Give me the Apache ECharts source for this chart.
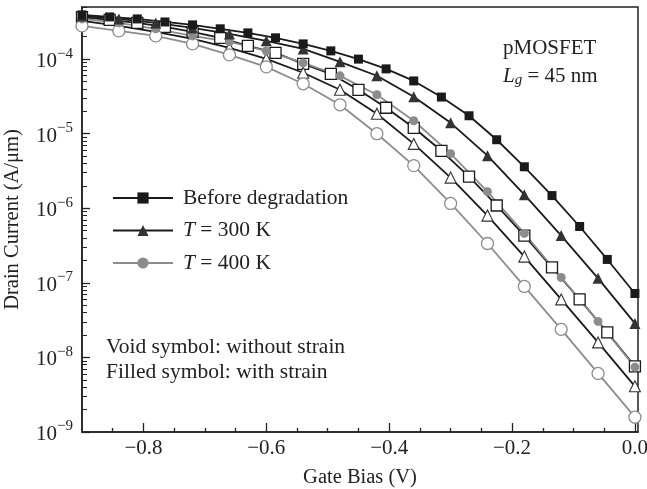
<!DOCTYPE html>
<html><head><meta charset="utf-8">
<script src="https://cdn.jsdelivr.net/npm/echarts@6/dist/echarts.min.js"></script>
<style>html,body{margin:0;padding:0;background:#fff}#c{width:647px;height:489px}</style>
</head><body><div id="c"></div><script>
// Gate bias grids (V)
const gateFine = [-0.900,-0.855,-0.810,-0.765,-0.720,-0.675,-0.630,-0.585,-0.540,-0.495,-0.450,-0.405,-0.360,-0.315,-0.270,-0.225,-0.180,-0.135,-0.090,-0.045,0.000];
const gateCoarse = [-0.90,-0.84,-0.78,-0.72,-0.66,-0.60,-0.54,-0.48,-0.42,-0.36,-0.30,-0.24,-0.18,-0.12,-0.06,0.00];

// Drain current (A/um)
const beforeStrain = [3.92e-4,3.68e-4,3.46e-4,3.15e-4,2.88e-4,2.55e-4,2.25e-4,1.93e-4,1.60e-4,1.29e-4,1.0e-4,7.4e-5,5.1e-5,3.1e-5,1.74e-5,8.3e-6,3.6e-6,1.48e-6,5.7e-7,2.06e-7,7.2e-8];
const beforeNoStrain = [3.65e-4,3.36e-4,3.06e-4,2.70e-4,2.32e-4,1.93e-4,1.51e-4,1.21e-4,8.65e-5,6.36e-5,3.88e-5,2.23e-5,1.20e-5,5.9e-6,2.65e-6,1.09e-6,4.3e-7,1.61e-7,6.0e-8,2.17e-8,7.6e-9];
const t300Strain = [3.80e-4,3.46e-4,3.06e-4,2.62e-4,2.18e-4,1.76e-4,1.37e-4,9.2e-5,5.98e-5,3.13e-5,1.40e-5,5.07e-6,1.52e-6,4.3e-7,1.15e-7,2.86e-8];
const t300NoStrain = [3.26e-4,2.79e-4,2.32e-4,1.87e-4,1.42e-4,1.01e-4,6.56e-5,3.88e-5,1.85e-5,7.3e-6,2.58e-6,7.98e-7,2.25e-7,6.0e-8,1.59e-8,4.1e-9];
const t400Strain = [3.46e-4,3.06e-4,2.55e-4,2.05e-4,1.71e-4,1.29e-4,8.9e-5,5.97e-5,3.33e-5,1.49e-5,5.4e-6,1.67e-6,4.6e-7,1.18e-7,3.04e-8,7.4e-9];
const t400NoStrain = [2.79e-4,2.39e-4,2.05e-4,1.60e-4,1.14e-4,7.88e-5,4.67e-5,2.44e-5,1.0e-5,3.73e-6,1.16e-6,3.37e-7,8.95e-8,2.38e-8,6.1e-9,1.58e-9];

// Tick labels
const xMajor = [-0.8,-0.6,-0.4,-0.2,0.0];
const xMinor = [-0.85,-0.75,-0.7,-0.65,-0.55,-0.5,-0.45,-0.35,-0.3,-0.25,-0.15,-0.1,-0.05];
const yDecades = [-9,-8,-7,-6,-5,-4];

// the y axis is drawn in decades (log10 of the current)
const Y_TOP = 5e-4;
const yMinor = [];
yDecades.forEach(e => { for (let k = 2; k <= 9; k++) { const v = Math.log10(k) + e; if (v <= Math.log10(Y_TOP)) yMinor.push(v); } });

const pair = (xs, ys) => xs.map((x, i) => [x, Math.log10(ys[i])]);
const FONT = 'Liberation Serif';
const TXT = '#222';
const BLACK = '#1a1a1a', DARK = '#333333', GRAY = '#8c8c8c';
const X_MIN = -0.9, X_MAX = 0.005, Y_MIN = -9, Y_MAX = Math.log10(Y_TOP);
const GRID = { left: 82, right: 9, top: 7, bottom: 57, outerBoundsMode: 'none', containLabel: false };
const CLEAR = 'rgba(0,0,0,0)';

function mk(name, xs, ys, symbol, size, lineColor, fill, stroke, bw) {
  return {
    name, type: 'line', data: pair(xs, ys), symbol, symbolSize: size, showAllSymbol: true,
    xAxisIndex: 0, yAxisIndex: 0,
    lineStyle: { color: lineColor, width: 1.8 },
    itemStyle: { color: fill, borderColor: stroke, borderWidth: bw },
    emphasis: { disabled: true }, animation: false, z: 3
  };
}

const chart = echarts.init(document.getElementById('c'), null, { renderer: 'canvas' });
chart.setOption({
  animation: false,
  grid: [
    Object.assign({ show: true, borderColor: '#222', borderWidth: 1.5, backgroundColor: 'transparent' }, GRID),
    Object.assign({ show: false }, GRID)
  ],
  xAxis: [
    { gridIndex: 0, type: 'value', min: X_MIN, max: X_MAX, position: 'bottom',
      name: 'Gate Bias (V)', nameLocation: 'middle', nameGap: 35,
      nameTextStyle: { fontFamily: FONT, fontSize: 20.5, color: TXT },
      axisLine: { onZero: false, lineStyle: { color: '#222', width: 1.5 } },
      axisTick: { show: true, inside: true, length: 9, lineStyle: { color: '#222', width: 1.3 }, customValues: xMajor },
      axisLabel: { customValues: xMajor, margin: 6, fontFamily: FONT, fontSize: 21, color: TXT,
        formatter: v => (v < 0 ? '\u2212' : '') + Math.abs(v).toFixed(1) },
      splitLine: { show: false } },
    { gridIndex: 1, type: 'value', min: X_MIN, max: X_MAX, position: 'bottom',
      axisLine: { show: true, onZero: false, lineStyle: { color: CLEAR } },
      axisTick: { show: true, inside: true, length: 4, lineStyle: { color: '#222', width: 1.3 }, customValues: xMinor },
      axisLabel: { show: false }, splitLine: { show: false } }
  ],
  yAxis: [
    { gridIndex: 0, type: 'value', min: Y_MIN, max: Y_MAX, position: 'left',
      name: 'Drain Current (A/\u03bcm)', nameLocation: 'middle', nameGap: 59,
      nameTextStyle: { fontFamily: FONT, fontSize: 20.5, color: TXT },
      axisLine: { onZero: false, lineStyle: { color: '#222', width: 1.5 } },
      axisTick: { show: true, inside: true, length: 8, lineStyle: { color: '#222', width: 1.3 }, customValues: yDecades },
      axisLabel: { customValues: yDecades, margin: 9, fontFamily: FONT, color: TXT,
        formatter: v => '{b|10}{s|\u2212' + (-Math.round(v)) + '}',
        rich: { b: { fontFamily: FONT, fontSize: 21, lineHeight: 26, verticalAlign: 'bottom', color: TXT },
                s: { fontFamily: FONT, fontSize: 15, lineHeight: 16, verticalAlign: 'top', color: TXT } } },
      splitLine: { show: false } },
    { gridIndex: 1, type: 'value', min: Y_MIN, max: Y_MAX, position: 'left',
      axisLine: { show: true, onZero: false, lineStyle: { color: CLEAR } },
      axisTick: { show: true, inside: true, length: 5, lineStyle: { color: '#222', width: 1 }, customValues: yMinor },
      axisLabel: { show: false }, splitLine: { show: false } }
  ],
  legend: {
    data: ['Before degradation', 'T = 300 K', 'T = 400 K'],
    orient: 'vertical', left: 112, top: 187, padding: 0, itemWidth: 60, itemHeight: 14, itemGap: 10.5,
    textStyle: { fontFamily: FONT, fontSize: 21.5, lineHeight: 22, color: TXT, padding: [0, 0, 0, 5],
      rich: { i: { fontFamily: FONT, fontSize: 21.5, lineHeight: 22, fontStyle: 'italic', color: TXT } } },
    formatter: n => n.charAt(0) === 'T' ? '{i|T}' + n.slice(1) : n,
    selectedMode: false
  },
  graphic: [
    { type: 'text', x: 503, y: 48, style: { text: 'pMOSFET', font: '21px "Liberation Serif"', fill: TXT, verticalAlign: 'middle' } },
    { type: 'text', x: 503, y: 76, style: { text: '{i|L}{g|g}{n| = 45 nm}', fill: TXT, verticalAlign: 'middle',
        rich: { i: { font: 'italic 21px "Liberation Serif"' }, g: { font: 'italic 15px "Liberation Serif"', verticalAlign: 'bottom', padding: [8,0,0,0] }, n: { font: '21px "Liberation Serif"' } } } },
    { type: 'text', x: 106, y: 347, style: { text: 'Void symbol: without strain', font: '21.5px "Liberation Serif"', fill: TXT, verticalAlign: 'middle' } },
    { type: 'text', x: 106, y: 372, style: { text: 'Filled symbol: with strain', font: '21.5px "Liberation Serif"', fill: TXT, verticalAlign: 'middle' } }
  ],
  series: [
    mk('Before degradation (void)', gateFine, beforeNoStrain, 'rect', 11, BLACK, '#fff', BLACK, 1.3),
    mk('T = 300 K (void)', gateCoarse, t300NoStrain, 'triangle', 11, BLACK, '#fff', DARK, 1.1),
    mk('T = 400 K (void)', gateCoarse, t400NoStrain, 'circle', 12, GRAY, '#fff', GRAY, 1.3),
    mk('T = 400 K', gateCoarse, t400Strain, 'circle', 9, GRAY, GRAY, GRAY, 0),
    mk('T = 300 K', gateCoarse, t300Strain, 'triangle', 11, BLACK, DARK, DARK, 0),
    mk('Before degradation', gateFine, beforeStrain, 'rect', 9, BLACK, BLACK, BLACK, 0)
  ]
});
</script></body></html>
